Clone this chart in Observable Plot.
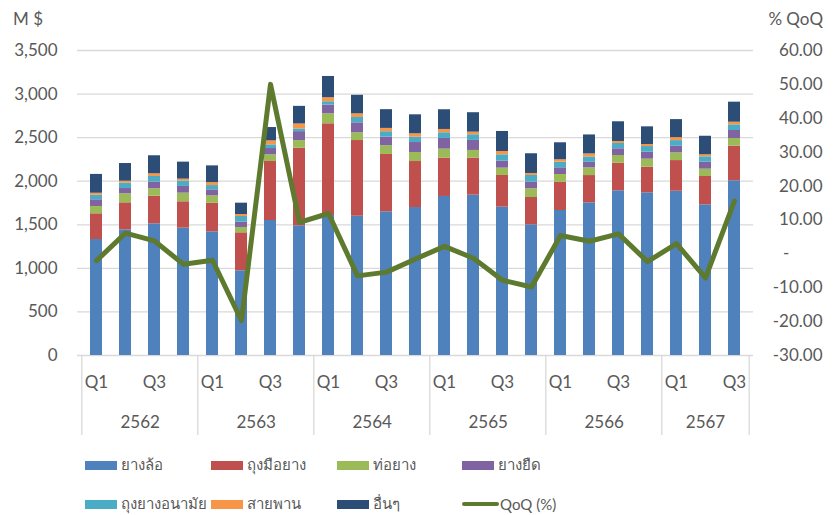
<!DOCTYPE html>
<html><head><meta charset="utf-8">
<script src="https://cdn.jsdelivr.net/npm/d3@7"></script>
<script src="https://cdn.jsdelivr.net/npm/@observablehq/plot@0.6"></script>
<style>
body{margin:0;background:#fff;font-family:Lato,"Noto Sans","DejaVu Sans",sans-serif;}
#wrap{position:relative;width:839px;height:515px;overflow:hidden;background:#fff;}
#chart{position:absolute;left:0;top:0;}
.lbl{position:absolute;color:#595959;font-size:17px;line-height:17px;white-space:nowrap;}
.leg{position:absolute;display:flex;align-items:center;height:20px;font-size:15px;color:#595959;white-space:nowrap;}
.sw{width:32px;height:9px;margin-right:4px;flex:none;}
.ln{width:37px;height:4px;border-radius:2px;margin-right:1px;flex:none;}
</style></head><body>
<div id="wrap"><div id="chart"></div></div>
<script>
const years = ["2562","2563","2564","2565","2566","2567"];
const quarterCounts = [4,4,4,4,4,3];
const quarterNames = ["Q1","Q2","Q3","Q4"];
const shownQuarters = ["Q1","Q3"];
const seriesNames = ["ยางล้อ","ถุงมือยาง","ท่อยาง","ยางยืด","ถุงยางอนามัย","สายพาน","อื่นๆ"];
const seriesColors = ["#4F81BD","#C0504D","#9BBB59","#8064A2","#4BACC6","#F79646","#2C4D75"];
const lineName = "QoQ (%)";
const lineColor = "#5E7A2F";

const tyre     = [1331,1442,1511,1461,1419,972,1549,1488,1607,1598,1649,1698,1825,1840,1702,1500,1664,1752,1890,1867,1885,1729,2005];
const gloves   = [295,310,317,303,328,436,677,890,1052,869,658,528,440,425,364,313,325,313,317,294,352,325,397];
const hose     = [84,103,85,99,85,61,77,88,115,88,100,103,103,88,84,100,88,88,88,92,88,84,88];
const elastic  = [77,61,76,77,69,61,72,103,99,115,99,115,123,115,80,76,77,64,77,80,76,80,92];
const condoms  = [52,61,65,61,49,65,42,31,39,61,62,61,65,65,73,77,64,62,61,65,65,62,65];
const belts    = [23,23,31,23,34,23,46,57,46,42,38,39,38,30,38,23,28,34,23,23,34,23,30];
const others   = [216,203,207,195,192,130,153,202,244,213,215,218,226,223,230,226,195,218,226,203,207,213,230];
const qoq      = [-2.0,6.1,3.8,-3.1,-1.9,-19.7,50.0,9.3,11.9,-6.5,-5.4,-1.5,2.2,-1.3,-7.8,-9.8,5.4,3.7,5.9,-2.3,3.0,-7.1,15.6];

const leftTicks = [0,500,1000,1500,2000,2500,3000,3500];
const rightTicks = [-30,-20,-10,0,10,20,30,40,50,60];
const leftDomain = [0,3500];
const rightDomain = [-30,60];

// build categories
const cats = [];
years.forEach((y, yi) => {
  for (let q = 0; q < quarterCounts[yi]; q++) {
    cats.push({key: y + " " + quarterNames[q], year: y, q: quarterNames[q], yi});
  }
});
const keys = cats.map(c => c.key);
const seriesValues = [tyre, gloves, hose, elastic, condoms, belts, others];
const barData = [];
cats.forEach((c, i) => {
  seriesNames.forEach((s, si) => barData.push({key: c.key, series: s, value: seriesValues[si][i]}));
});
const lineData = cats.map((c, i) => ({key: c.key, qoq: qoq[i]}));
const toLeft = d3.scaleLinear(rightDomain, leftDomain);

const W = 839, H = 445, ML = 77, MR = 86, MT = 50, MB = 10;
const plotBottom = 355;
const step = (W - ML - MR) / keys.length;

const groupStarts = cats.filter(c => c.q === "Q1").map(c => c.key);
const lastKey = [keys[keys.length - 1]];
const qLabels = cats.filter(c => shownQuarters.includes(c.q));
const fullYears = years.filter((y, i) => quarterCounts[i] === 4).map(y => ({year: y, key: y + " Q2"}));
const partYears = years.filter((y, i) => quarterCounts[i] === 3).map(y => ({year: y, key: y + " Q2"}));

const fmtRight = v => {
  const r = Math.round(toLeft.invert(v) * 100) / 100;
  if (Math.abs(r) < 1e-9) return "-\u2007\u2007\u2007\u2008";
  return r.toFixed(2);
};

const grey = "#595959";
const gridC = "#d9d9d9";

const chart = Plot.plot({
  width: W, height: H,
  marginLeft: ML, marginRight: MR, marginTop: MT, marginBottom: MB,
  style: {fontFamily: 'Lato,"Noto Sans",sans-serif', fontSize: "17px", color: grey, background: "white", overflow: "visible"},
  x: {type: "band", domain: keys, paddingInner: 0.59, paddingOuter: 0.295, axis: null},
  y: {domain: leftDomain, range: [plotBottom, MT], axis: null},
  color: {domain: seriesNames, range: seriesColors},
  marks: [
    Plot.ruleY(leftTicks, {stroke: gridC, strokeWidth: 1.3}),
    Plot.barY(barData, {x: "key", y: "value", fill: "series", order: seriesNames}),
    Plot.line(lineData, {x: "key", y: d => toLeft(d.qoq), stroke: lineColor, strokeWidth: 5, strokeLinejoin: "round", strokeLinecap: "round"}),
    Plot.axisY(leftTicks, {anchor: "left", label: null, tickSize: 0, tickPadding: 20, tickFormat: d3.format(","), fill: grey}),
    Plot.axisY(rightTicks.map(toLeft), {anchor: "right", label: null, tickSize: 0, tickPadding: 69, textAnchor: "end", tickFormat: fmtRight, fill: grey}),
    Plot.ruleX(groupStarts, {dx: -step / 2, insetTop: plotBottom - MT, stroke: gridC, strokeWidth: 1.3}),
    Plot.ruleX(lastKey, {dx: step / 2, insetTop: plotBottom - MT, stroke: gridC, strokeWidth: 1.3}),
    Plot.text(qLabels, {x: "key", y: 0, dy: 27, text: "q", fill: grey}),
    Plot.text(fullYears, {x: "key", y: 0, dy: 67, dx: step / 2, text: "year", fill: grey}),
    Plot.text(partYears, {x: "key", y: 0, dy: 67, text: "year", fill: grey})
  ]
});
const wrap = document.getElementById("wrap");
document.getElementById("chart").appendChild(chart);

// axis titles
const t1 = document.createElement("div");
t1.className = "lbl"; t1.style.left = "13px"; t1.style.top = "10px"; t1.textContent = "M $";
wrap.appendChild(t1);
const t2 = document.createElement("div");
t2.className = "lbl"; t2.style.right = "16px"; t2.style.top = "10px"; t2.textContent = "% QoQ";
wrap.appendChild(t2);

// legend
const legCols = [85, 211, 337, 462];
const legRows = [455, 494];
const legItems = seriesNames.map((s, i) => ({name: s, color: seriesColors[i], type: "bar"}));
legItems.push({name: lineName, color: lineColor, type: "line"});
legItems.forEach((it, i) => {
  const d = document.createElement("div");
  d.className = "leg";
  d.style.left = legCols[i % 4] + "px";
  d.style.top = legRows[Math.floor(i / 4)] + "px";
  const sw = document.createElement("span");
  sw.className = it.type === "bar" ? "sw" : "ln";
  sw.style.background = it.color;
  const tx = document.createElement("span");
  tx.textContent = it.name;
  d.appendChild(sw); d.appendChild(tx);
  wrap.appendChild(d);
});
</script>
</body></html>
